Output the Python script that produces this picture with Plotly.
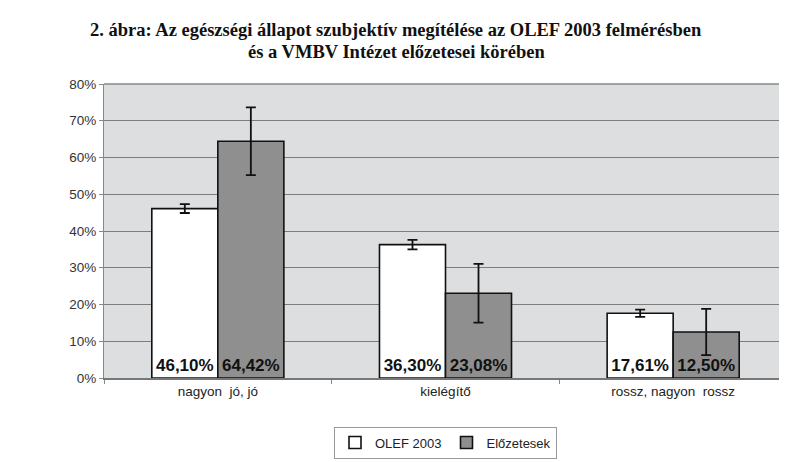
import plotly.graph_objects as go

categories = ["nagyon  jó, jó", "kielégítő", "rossz, nagyon  rossz"]
olef_values = [46.10, 36.30, 17.61]
olef_errors = [1.2, 1.3, 1.0]
elozetesek_values = [64.42, 23.08, 12.50]
elozetesek_errors = [9.2, 8.0, 6.3]
y_ticks = [0, 10, 20, 30, 40, 50, 60, 70, 80]
y_tick_labels = [f"{v}%" for v in y_ticks]
title_lines = [
    "2. ábra: Az egészségi állapot szubjektív megítélése az OLEF 2003 felmérésben",
    "és a VMBV Intézet előzetesei körében",
]

def fmt(v):
    return f"{v:.2f}%".replace(".", ",")

label_font = dict(family="Liberation Sans, Arial", size=17, color="#111")

fig = go.Figure()
fig.add_trace(go.Bar(
    name="OLEF 2003", x=categories, y=olef_values,
    marker=dict(color="white", line=dict(color="#111", width=1.6)),
    error_y=dict(type="data", array=olef_errors, color="#111", thickness=1.8, width=5),
    text=[fmt(v) for v in olef_values], textposition="inside", insidetextanchor="start",
    textfont=label_font, texttemplate="<b>%{text}</b>", textangle=0,
))
fig.add_trace(go.Bar(
    name="Előzetesek", x=categories, y=elozetesek_values,
    marker=dict(color="#8f8f8f", line=dict(color="#111", width=1.6)),
    error_y=dict(type="data", array=elozetesek_errors, color="#111", thickness=1.8, width=5),
    text=[fmt(v) for v in elozetesek_values], textposition="inside", insidetextanchor="start",
    textfont=label_font, texttemplate="<b>%{text}</b>", textangle=0,
))

title_font = dict(family="Liberation Serif, Times New Roman", size=18.5, color="#111")
for line, ypos in zip(title_lines, [1.184, 1.110]):
    fig.add_annotation(text=f"<b>{line}</b>", xref="paper", yref="paper",
                       x=0.428, y=ypos, xanchor="center", yanchor="middle",
                       showarrow=False, font=title_font)

fig.update_layout(
    width=779, height=454,
    margin=dict(l=96, r=0, t=76, b=84, autoexpand=False),
    paper_bgcolor="white",
    plot_bgcolor="#dcdee0",
    barmode="group", bargap=0.42, bargroupgap=0,
    font=dict(family="Liberation Sans, Arial", size=13, color="#333"),
    showlegend=True,
    legend=dict(
        orientation="h", x=0.5, xanchor="center", y=-0.165, yanchor="top",
        bordercolor="#999", borderwidth=1, bgcolor="white",
        font=dict(family="Liberation Sans, Arial", size=13, color="#222"),
        itemwidth=30, tracegroupgap=0,
    ),
    uniformtext=dict(minsize=10, mode="show"),
)
fig.update_yaxes(
    range=[0, 80], tickvals=y_ticks, ticktext=y_tick_labels,
    showgrid=True, gridcolor="#7d7d7d", gridwidth=1,
    showline=True, linecolor="#888", linewidth=1,
    ticks="outside", ticklen=4, tickcolor="#888",
    mirror=False, zeroline=False,
    tickfont=dict(size=13.5, color="#333"),
)
fig.update_xaxes(
    showline=True, linecolor="#777", linewidth=1.5,
    ticks="outside", ticklen=4, tickcolor="#888", tickson="boundaries",
    tickfont=dict(size=13.5, color="#222"),
)
fig.add_shape(type="line", xref="paper", yref="paper", x0=0, x1=1, y0=1, y1=1,
              line=dict(color="#888", width=1.5))

fig.write_html("out.html")
